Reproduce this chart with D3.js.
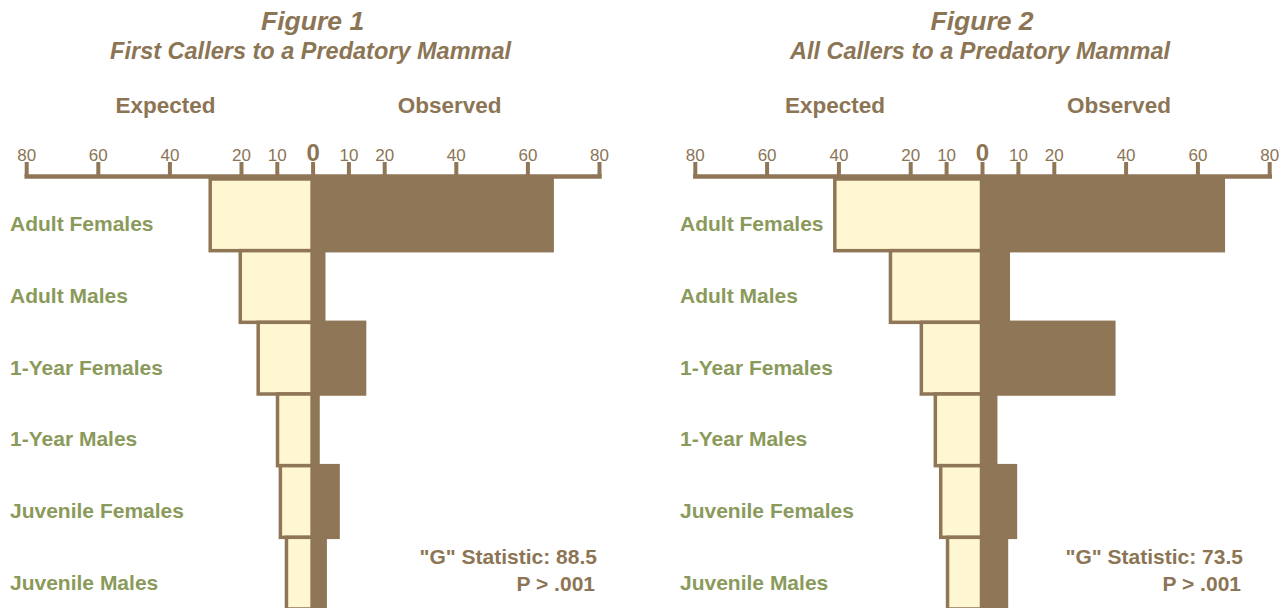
<!DOCTYPE html>
<html>
<head>
<meta charset="utf-8">
<script src="https://cdn.jsdelivr.net/npm/d3@7"></script>
<style>
  html, body { margin: 0; padding: 0; background: #ffffff; }
  svg { display: block; font-family: "Liberation Sans", Arial, Helvetica, sans-serif; }
</style>
</head>
<body>
<svg id="chart" width="1287" height="608"></svg>
<script>
// ---- Data ----
const categories = ["Adult Females", "Adult Males", "1-Year Females", "1-Year Males", "Juvenile Females", "Juvenile Males"];
const fig1Expected = [28.6, 20.2, 15.2, 9.8, 9.0, 7.3];
const fig1Observed = [67.4, 3.6, 15.0, 2.0, 7.6, 4.0];
const fig2Expected = [41.0, 25.5, 16.9, 13.0, 11.5, 9.6];
const fig2Observed = [67.7, 7.8, 37.2, 4.3, 9.8, 7.3];
const tickValues = [-80, -60, -40, -20, -10, 0, 10, 20, 40, 60, 80];
const figureTitles = ["Figure 1", "Figure 2"];
const figureSubtitles = ["First Callers to a Predatory Mammal", "All Callers to a Predatory Mammal"];
const gStatistics = ["\"G\" Statistic: 88.5", "\"G\" Statistic: 73.5"];
const pValues = ["P > .001", "P > .001"];

// ---- Style ----
const BROWN = "#8e7656";
const TEXT_BROWN = "#8c7555";
const LIGHT = "#fff7d2";
const GREEN = "#8a9a5b";

const svg = d3.select("#chart");

const figures = [
  { zero: 312.6, half: 286.4, expected: fig1Expected, observed: fig1Observed, labelX: 10, statRight: 597 },
  { zero: 982, half: 287.2, expected: fig2Expected, observed: fig2Observed, labelX: 680, statRight: 1243 }
];

const y = d3.scaleBand().domain(categories).range([179, 609]).paddingInner(0).paddingOuter(0);
const axisY = 176;

figures.forEach((f, i) => {
  const g = svg.append("g");
  const x = d3.scaleLinear().domain([-80, 80]).range([f.zero - f.half, f.zero + f.half]);

  // titles
  g.append("text").attr("x", f.zero).attr("y", 30).attr("text-anchor", "middle")
    .attr("font-size", 26.5).attr("font-weight", "bold").attr("font-style", "italic")
    .attr("fill", TEXT_BROWN).text(figureTitles[i]);
  g.append("text").attr("x", f.zero - 2).attr("y", 58.5).attr("text-anchor", "middle")
    .attr("font-size", 23.5).attr("font-weight", "bold").attr("font-style", "italic")
    .attr("fill", TEXT_BROWN).text(figureSubtitles[i]);

  // column headers
  g.append("text").attr("x", f.zero - 147).attr("y", 113).attr("text-anchor", "middle")
    .attr("font-size", 22.5).attr("font-weight", "bold").attr("fill", TEXT_BROWN).text("Expected");
  g.append("text").attr("x", f.zero + 137).attr("y", 113).attr("text-anchor", "middle")
    .attr("font-size", 22.5).attr("font-weight", "bold").attr("fill", TEXT_BROWN).text("Observed");

  // expected bars (left)
  g.selectAll("rect.exp").data(categories).join("rect")
    .attr("class", "exp")
    .attr("x", (c, k) => x(-f.expected[k]))
    .attr("y", c => y(c))
    .attr("width", (c, k) => x(0) - x(-f.expected[k]) - 0.5)
    .attr("height", y.bandwidth())
    .attr("fill", LIGHT).attr("stroke", BROWN).attr("stroke-width", 3.5);

  // observed bars (right)
  g.selectAll("rect.obs").data(categories).join("rect")
    .attr("class", "obs")
    .attr("x", x(0) - 1.5)
    .attr("y", c => y(c) - 1.75)
    .attr("width", (c, k) => x(f.observed[k]) - x(0) + 1.5)
    .attr("height", y.bandwidth() + 3.5)
    .attr("fill", BROWN);

  // axis
  const axis = d3.axisTop(x).tickValues(tickValues).tickSize(14).tickSizeOuter(0).tickPadding(1)
    .tickFormat(d => String(Math.abs(d)));
  const ag = g.append("g").attr("transform", `translate(0,${axisY})`).call(axis);
  ag.select(".domain").attr("stroke", BROWN).attr("stroke-width", 4.5).attr("stroke-linecap", "square");
  ag.selectAll(".tick line").attr("stroke", BROWN).attr("stroke-width", 4);
  ag.selectAll(".tick text").attr("fill", TEXT_BROWN).attr("font-size", 17)
    .attr("font-family", "\"Liberation Sans Narrow\", \"Liberation Sans\", Arial, sans-serif");
  ag.selectAll(".tick").filter(d => d === 0).select("text").attr("font-size", 24).attr("font-weight", "bold");

  // category labels
  g.selectAll("text.cat").data(categories).join("text")
    .attr("class", "cat")
    .attr("x", f.labelX)
    .attr("y", c => y(c) + y.bandwidth() / 2 + 16.5)
    .attr("font-size", 21).attr("font-weight", "bold").attr("fill", GREEN)
    .text(c => c);

  // statistics
  g.append("text").attr("x", f.statRight).attr("y", 564).attr("text-anchor", "end")
    .attr("font-size", 21).attr("font-weight", "bold").attr("fill", TEXT_BROWN).text(gStatistics[i]);
  g.append("text").attr("x", f.statRight - 2).attr("y", 590.5).attr("text-anchor", "end")
    .attr("font-size", 21).attr("font-weight", "bold").attr("fill", TEXT_BROWN).text(pValues[i]);
});
</script>
</body>
</html>
